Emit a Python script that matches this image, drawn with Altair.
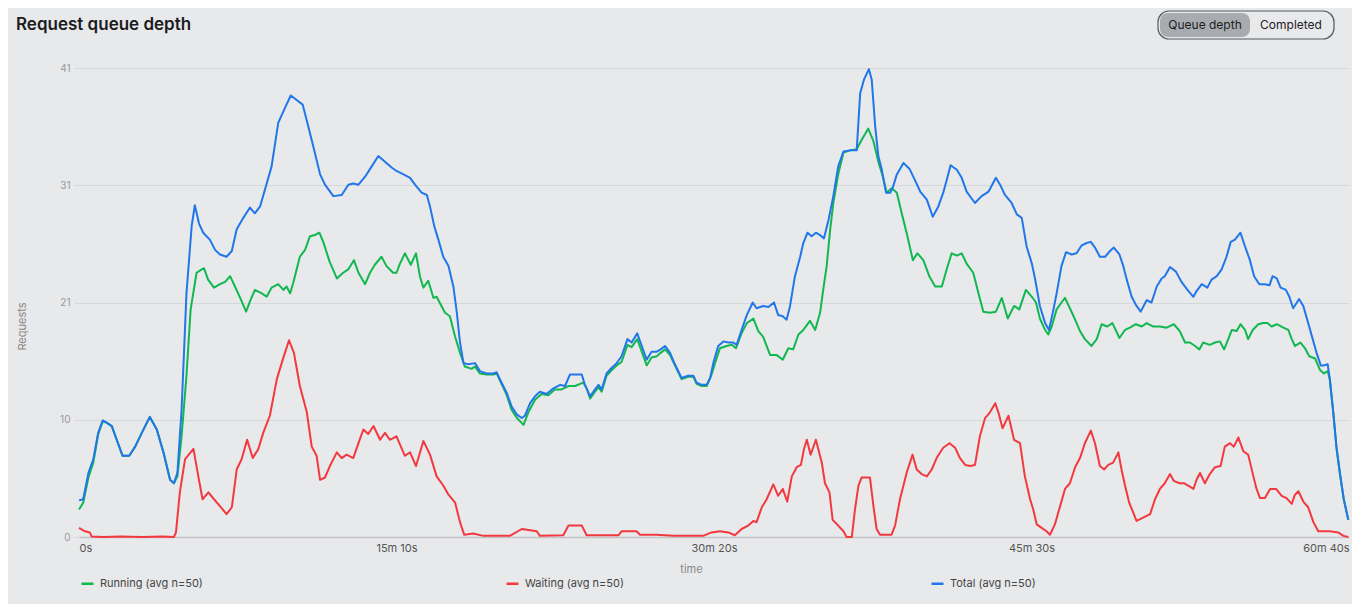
import altair as alt
import pandas as pd

# ---------------- data ----------------
series_names = ["Running (avg n=50)", "Waiting (avg n=50)", "Total (avg n=50)"]
series_colors = ["#10b84f", "#f2393f", "#2176ea"]

running_t = [0, 12, 27, 41, 55, 68, 79, 94, 108, 125, 144, 161, 180, 203, 223, 242, 261, 272, 282, 294,
             308, 320, 337, 352, 358, 370, 387, 404, 419, 433, 447, 462, 479, 490, 504, 524, 538, 552, 571, 586,
             595, 605, 614, 633, 648, 662, 676, 689, 700, 718, 739, 757, 772, 788, 801, 820, 834, 848, 867, 881,
             900, 910, 920, 934, 951, 966, 977, 987, 1001, 1016, 1025, 1049, 1063, 1078, 1092, 1106, 1125, 1135, 1149, 1168,
             1188, 1197, 1211, 1226, 1240, 1255, 1274, 1288, 1307, 1326, 1345, 1364, 1383, 1403, 1422, 1445, 1455, 1465, 1479, 1489,
             1498, 1512, 1527, 1541, 1555, 1572, 1584, 1600, 1613, 1627, 1641, 1656, 1667, 1680, 1694, 1708, 1727, 1746, 1761, 1770,
             1785, 1799, 1813, 1823, 1837, 1856, 1871, 1883, 1899, 1914, 1933, 1947, 1961, 1981, 2000, 2017, 2033, 2047, 2062, 2076,
             2095, 2110, 2124, 2133, 2143, 2153, 2162, 2176, 2191, 2210, 2229, 2243, 2262, 2277, 2291, 2304, 2315, 2329, 2344, 2358,
             2372, 2390, 2403, 2420, 2437, 2454, 2473, 2487, 2501, 2516, 2530, 2544, 2563, 2578, 2592, 2611, 2628, 2645, 2662, 2680,
             2695, 2714, 2731, 2743, 2754, 2769, 2778, 2788, 2802, 2816, 2826, 2840, 2855, 2869, 2883, 2902, 2917, 2931, 2947, 2962,
             2982, 2998, 3012, 3029, 3046, 3060, 3079, 3098, 3117, 3138, 3155, 3170, 3184, 3199, 3211, 3222, 3241, 3256, 3270, 3282,
             3294, 3304, 3318, 3329, 3342, 3351, 3364, 3380, 3394, 3406, 3418, 3433, 3452, 3466, 3476, 3485, 3501, 3514, 3526, 3543,
             3557, 3568, 3579, 3585, 3595, 3604, 3614, 3625, 3638]
running_v = [2.4, 3.0, 5.2, 6.5, 9.0, 10.1, 10.0, 9.7, 8.5, 7.1, 7.1, 7.9, 9.1, 10.5, 9.4, 7.4, 5.0, 4.7, 5.3, 8.8,
             14.1, 19.9, 23.1, 23.4, 23.5, 22.5, 21.8, 22.1, 22.3, 22.8, 21.9, 20.9, 19.7, 20.6, 21.6, 21.3, 21.0, 21.8, 22.1, 21.6,
             21.9, 21.3, 22.2, 24.5, 25.1, 26.3, 26.4, 26.6, 25.8, 24.1, 22.6, 23.1, 23.4, 24.2, 23.1, 22.1, 23.1, 23.8, 24.5, 23.7,
             23.1, 23.1, 23.9, 24.8, 23.8, 24.8, 22.8, 21.8, 22.4, 20.9, 21.0, 19.6, 19.3, 17.5, 16.1, 14.9, 14.7, 14.9, 14.3, 14.2,
             14.2, 14.3, 13.4, 12.4, 11.1, 10.4, 9.8, 10.9, 12.0, 12.5, 12.4, 12.9, 12.9, 13.2, 13.2, 13.5, 13.0, 12.1, 12.7, 13.1,
             12.7, 14.1, 14.6, 15.0, 15.3, 16.8, 16.6, 17.3, 16.2, 15.0, 15.7, 15.8, 16.1, 16.4, 15.9, 15.0, 13.8, 14.0, 14.0, 13.4,
             13.2, 13.2, 14.2, 15.2, 16.5, 16.7, 16.8, 16.5, 17.8, 18.7, 19.1, 18.0, 17.5, 15.9, 15.9, 15.5, 16.5, 16.4, 17.7, 18.1,
             18.9, 18.1, 19.6, 21.6, 23.7, 26.9, 29.2, 31.7, 33.6, 33.8, 33.9, 34.7, 35.7, 34.6, 32.8, 31.5, 30.1, 30.5, 30.1, 28.3,
             26.6, 24.2, 24.8, 24.2, 22.8, 21.9, 21.9, 23.4, 24.8, 24.6, 24.8, 23.9, 23.1, 21.3, 19.7, 19.6, 19.7, 20.9, 19.1, 20.2,
             19.9, 21.6, 21.0, 20.5, 19.1, 18.1, 17.7, 18.4, 19.9, 20.5, 20.9, 20.0, 19.0, 18.0, 17.3, 16.7, 17.3, 18.6, 18.4, 18.7,
             17.4, 18.1, 18.3, 18.6, 18.4, 18.7, 18.4, 18.4, 18.3, 18.6, 18.0, 17.0, 17.0, 16.7, 16.4, 17.0, 16.8, 17.0, 17.1, 16.4,
             17.3, 18.1, 18.0, 18.6, 18.1, 17.3, 18.1, 18.6, 18.7, 18.7, 18.4, 18.6, 18.3, 18.1, 17.3, 16.7, 17.0, 16.5, 15.8, 15.6,
             14.6, 14.3, 14.5, 13.8, 10.8, 7.8, 5.5, 3.3, 1.5]

waiting_t = [0, 17, 31, 36, 70, 120, 180, 240, 272, 278, 289, 304, 328, 342, 354, 371, 387, 404, 423, 438,
             452, 466, 482, 498, 514, 528, 547, 567, 586, 602, 616, 633, 653, 667, 681, 691, 705, 719, 739, 753,
             767, 786, 801, 815, 829, 844, 863, 877, 891, 910, 934, 949, 966, 987, 1006, 1025, 1044, 1059, 1078, 1092,
             1104, 1130, 1159, 1235, 1269, 1312, 1321, 1388, 1403, 1441, 1455, 1546, 1555, 1598, 1608, 1656, 1703, 1789, 1813, 1837,
             1861, 1880, 1899, 1918, 1933, 1942, 1957, 1971, 1990, 2004, 2017, 2030, 2043, 2057, 2069, 2078, 2086, 2097, 2112, 2129,
             2138, 2151, 2160, 2176, 2191, 2200, 2215, 2224, 2234, 2243, 2267, 2277, 2286, 2296, 2329, 2339, 2353, 2372, 2389, 2401,
             2415, 2430, 2444, 2458, 2477, 2495, 2511, 2525, 2540, 2554, 2568, 2582, 2597, 2611, 2626, 2635, 2647, 2664, 2680, 2697,
             2711, 2726, 2735, 2745, 2759, 2773, 2783, 2797, 2812, 2826, 2840, 2855, 2869, 2883, 2900, 2912, 2926, 2938, 2950, 2964,
             2979, 2988, 2998, 3010, 3022, 3031, 3050, 3070, 3084, 3098, 3112, 3127, 3138, 3154, 3167, 3179, 3194, 3203, 3213, 3227,
             3241, 3256, 3272, 3284, 3299, 3310, 3323, 3337, 3351, 3366, 3375, 3385, 3399, 3414, 3431, 3447, 3461, 3476, 3485, 3495,
             3509, 3523, 3538, 3552, 3566, 3585, 3609, 3624, 3638]
waiting_v = [0.8, 0.5, 0.4, 0.05, 0.0, 0.05, 0.0, 0.05, 0.0, 0.4, 3.9, 6.8, 7.7, 5.3, 3.3, 3.9, 3.3, 2.7, 2.0, 2.6,
             5.9, 6.8, 8.5, 6.9, 7.7, 9.1, 10.6, 13.8, 15.7, 17.2, 16.1, 13.2, 10.9, 7.9, 7.1, 5.0, 5.2, 6.2, 7.4, 6.9,
             7.2, 6.9, 8.2, 9.4, 9.0, 9.7, 8.5, 9.1, 8.5, 8.8, 7.1, 7.4, 6.2, 8.4, 7.2, 5.3, 4.5, 3.7, 3.0, 1.3,
             0.2, 0.3, 0.1, 0.1, 0.7, 0.5, 0.1, 0.15, 1.0, 1.0, 0.15, 0.15, 0.5, 0.5, 0.2, 0.2, 0.1, 0.1, 0.4, 0.5,
             0.4, 0.15, 0.7, 1.0, 1.4, 1.3, 2.6, 3.3, 4.6, 3.6, 4.2, 3.1, 5.3, 6.1, 6.3, 7.7, 8.5, 7.2, 8.5, 6.5,
             4.7, 3.9, 1.5, 1.0, 0.5, 0.0, 0.0, 2.4, 4.5, 5.2, 5.2, 2.7, 0.7, 0.2, 0.2, 1.0, 3.3, 5.6, 7.2, 5.9,
             5.5, 5.3, 5.9, 6.9, 7.8, 8.2, 7.8, 6.9, 6.3, 6.2, 6.3, 8.8, 10.4, 10.9, 11.7, 10.9, 9.5, 10.6, 8.5, 8.2,
             5.3, 3.3, 2.4, 1.1, 0.8, 0.5, 0.2, 1.1, 2.7, 4.2, 4.7, 6.1, 6.9, 8.2, 9.3, 8.2, 6.2, 5.9, 6.3, 6.5,
             7.4, 5.9, 4.5, 3.0, 2.1, 1.4, 1.7, 2.0, 3.3, 4.2, 4.7, 5.5, 4.9, 4.7, 4.7, 4.5, 4.2, 5.0, 5.6, 4.7,
             5.5, 6.1, 6.2, 7.9, 8.2, 7.9, 8.7, 7.5, 7.2, 5.3, 4.2, 3.4, 3.4, 4.2, 4.2, 3.6, 3.4, 2.9, 3.7, 4.0,
             3.1, 2.6, 1.3, 0.5, 0.5, 0.5, 0.4, 0.1, 0.0]

total_t = [0, 12, 27, 41, 55, 68, 79, 94, 108, 125, 144, 161, 180, 203, 223, 242, 261, 272, 282, 294,
           308, 323, 332, 344, 356, 375, 390, 404, 423, 438, 452, 471, 490, 504, 519, 538, 552, 571, 590, 607,
           624, 641, 657, 676, 691, 705, 729, 753, 772, 786, 801, 820, 839, 858, 877, 896, 910, 930, 949, 963,
           982, 997, 1006, 1018, 1030, 1044, 1059, 1073, 1083, 1092, 1102, 1116, 1135, 1149, 1168, 1188, 1197, 1211, 1226, 1240,
           1255, 1269, 1278, 1293, 1307, 1321, 1340, 1360, 1379, 1393, 1407, 1426, 1441, 1450, 1465, 1479, 1489, 1498, 1512, 1527,
           1541, 1555, 1572, 1584, 1600, 1613, 1627, 1641, 1656, 1667, 1680, 1694, 1708, 1727, 1746, 1761, 1770, 1785, 1799, 1809,
           1818, 1832, 1847, 1861, 1875, 1885, 1899, 1914, 1931, 1942, 1961, 1976, 1992, 2004, 2017, 2028, 2038, 2052, 2067, 2076,
           2088, 2100, 2112, 2124, 2135, 2148, 2162, 2176, 2191, 2210, 2229, 2239, 2250, 2264, 2272, 2282, 2291, 2301, 2313, 2325,
           2332, 2344, 2363, 2380, 2396, 2411, 2430, 2447, 2463, 2477, 2487, 2498, 2516, 2530, 2544, 2568, 2587, 2607, 2628, 2640,
           2654, 2673, 2688, 2702, 2716, 2731, 2740, 2754, 2769, 2780, 2791, 2802, 2816, 2829, 2845, 2859, 2874, 2888, 2900, 2912,
           2926, 2941, 2955, 2966, 2982, 2993, 3003, 3017, 3031, 3043, 3060, 3074, 3089, 3103, 3112, 3127, 3144, 3160, 3177, 3194,
           3203, 3218, 3234, 3246, 3261, 3275, 3289, 3301, 3313, 3329, 3342, 3356, 3368, 3383, 3399, 3412, 3421, 3433, 3444, 3459,
           3469, 3480, 3497, 3509, 3523, 3536, 3547, 3559, 3568, 3579, 3585, 3595, 3604, 3614, 3625, 3638]
total_v = [3.2, 3.3, 5.6, 6.8, 9.1, 10.2, 10.0, 9.7, 8.5, 7.1, 7.1, 7.9, 9.1, 10.5, 9.4, 7.4, 5.0, 4.7, 5.6, 11.1,
           21.3, 27.2, 29.0, 27.4, 26.6, 26.0, 25.1, 24.7, 24.5, 25.0, 26.9, 27.9, 28.8, 28.3, 28.9, 30.9, 32.4, 36.2, 37.5, 38.6,
           38.2, 37.8, 35.9, 33.6, 31.7, 30.8, 29.8, 29.9, 30.8, 30.9, 30.8, 31.5, 32.4, 33.3, 32.8, 32.3, 32.0, 31.7, 31.4, 30.8,
           30.1, 29.9, 28.9, 27.2, 26.0, 24.5, 23.7, 21.9, 19.6, 17.0, 15.2, 15.1, 15.2, 14.5, 14.3, 14.3, 14.4, 13.5, 12.6, 11.4,
           10.7, 10.4, 10.6, 11.7, 12.3, 12.7, 12.5, 13.0, 13.3, 13.2, 14.2, 14.2, 14.2, 13.3, 12.3, 12.9, 13.3, 12.9, 14.3, 14.8,
           15.2, 15.8, 17.3, 17.0, 17.8, 16.7, 15.5, 16.2, 16.2, 16.4, 16.7, 16.1, 15.1, 13.9, 14.1, 14.1, 13.5, 13.3, 13.3, 13.9,
           15.2, 16.7, 17.1, 17.0, 17.0, 16.8, 18.1, 19.4, 20.5, 20.0, 20.2, 20.1, 20.5, 19.4, 19.3, 19.0, 20.2, 22.8, 24.5, 25.7,
           26.6, 26.3, 26.6, 26.4, 26.1, 27.7, 29.8, 32.4, 33.7, 33.8, 33.8, 38.8, 40.0, 40.9, 40.0, 35.9, 33.3, 32.1, 30.1, 30.1,
           30.5, 31.7, 32.7, 32.2, 31.2, 30.2, 29.5, 28.0, 28.9, 30.1, 31.2, 32.5, 32.1, 31.4, 30.2, 29.2, 29.8, 30.2, 31.4, 30.8,
           29.9, 29.2, 28.2, 27.9, 25.4, 23.9, 22.6, 20.2, 18.7, 18.1, 19.6, 21.3, 23.7, 24.9, 24.7, 24.8, 25.5, 25.7, 25.8, 25.3,
           24.5, 24.5, 25.0, 25.3, 24.7, 23.7, 22.5, 21.0, 20.2, 19.7, 20.7, 20.5, 21.9, 22.6, 22.8, 23.6, 23.2, 22.3, 21.6, 21.0,
           21.5, 22.1, 21.8, 22.5, 22.8, 23.4, 24.5, 25.8, 26.0, 26.6, 25.4, 24.2, 22.8, 22.1, 22.1, 22.0, 22.8, 22.6, 21.8, 21.6,
           21.0, 20.0, 20.8, 20.2, 18.7, 17.3, 16.1, 15.0, 15.0, 15.1, 13.8, 10.9, 7.9, 5.6, 3.3, 1.5]

x_ticks = [0, 910, 1820, 2730, 3640]
y_ticks = [0, 10.25, 20.5, 30.75, 41]
chart_title = "Request queue depth"
toggle_labels = ["Queue depth", "Completed"]

# ---------------- table ----------------
rows = []
for name, ts, vs in [(series_names[0], running_t, running_v),
                     (series_names[1], waiting_t, waiting_v),
                     (series_names[2], total_t, total_v)]:
    for t, v in zip(ts, vs):
        rows.append({"time": t, "requests": v, "series": name})
df = pd.DataFrame(rows)

FONT = "Inter"
BG = "#e8e9eb"
GRID = "#d6d7da"

x_enc = alt.X(
    "time:Q",
    scale=alt.Scale(domain=[0, 3640], nice=False, zero=False),
    axis=alt.Axis(
        values=x_ticks,
        labelExpr="datum.value == 0 ? '0s' : floor(datum.value / 60) + 'm ' + (datum.value % 60) + 's'",
        title="time", grid=False, ticks=False, domain=True, domainColor="#c3c4c7", domainWidth=1.5,
        labelFlush=True, labelColor="#555", labelFontSize=11, labelPadding=5, labelFont=FONT,
        titleColor="#888", titleFontSize=11, titleFontWeight="normal", titleFont=FONT,
        titleX=612, titleY=32, titleBaseline="middle",
    ),
)
y_enc = alt.Y(
    "requests:Q",
    scale=alt.Scale(domain=[0, 41], nice=False),
    axis=alt.Axis(
        values=y_ticks, labelExpr="round(datum.value)",
        grid=True, gridColor=GRID, domain=False, ticks=True, tickColor=GRID, tickSize=5,
        labelColor="#999", labelFontSize=10, labelPadding=4, labelFont=FONT,
        title="Requests", titleColor="#888", titleFontSize=11, titleFontWeight="normal", titleFont=FONT,
        titleX=-57, titleY=258, titleBaseline="middle",
    ),
)
color_enc = alt.Color(
    "series:N",
    scale=alt.Scale(domain=series_names, range=series_colors),
    legend=alt.Legend(
        title=None, orient="none", legendX=1, legendY=508, direction="horizontal",
        columns=3, gridAlign="all", columnPadding=298,
        symbolType="stroke", symbolSize=144, symbolStrokeWidth=2.5,
        labelFontSize=11, labelColor="#444", labelFont=FONT, labelOffset=5,
    ),
)

base = alt.Chart(df).encode(x=x_enc, y=y_enc, color=color_enc)
lines = [
    base.transform_filter(alt.datum.series == s).mark_line(strokeWidth=2, strokeJoin="round")
    for s in series_names
]

one = pd.DataFrame({"k": [0]})
title_mark = alt.Chart(one).mark_text(
    text=chart_title, fontSize=17, fontWeight=600, font=FONT, color="#1b1c1f",
    align="left", baseline="middle"
).encode(x=alt.value(-63), y=alt.value(-43))
toggle_outer = alt.Chart(one).mark_rect(
    cornerRadius=11, fill=BG, stroke="#55585d", strokeWidth=1.2
).encode(x=alt.value(1079), x2=alt.value(1255), y=alt.value(-57), y2=alt.value(-29))
toggle_active = alt.Chart(one).mark_rect(cornerRadius=8, fill="#a8acb1").encode(
    x=alt.value(1081), x2=alt.value(1171), y=alt.value(-55), y2=alt.value(-31)
)
toggle_t1 = alt.Chart(one).mark_text(
    text=toggle_labels[0], fontSize=12, font=FONT, color="#1f2023", align="center", baseline="middle"
).encode(x=alt.value(1126), y=alt.value(-43))
toggle_t2 = alt.Chart(one).mark_text(
    text=toggle_labels[1], fontSize=12, font=FONT, color="#1f2023", align="center", baseline="middle"
).encode(x=alt.value(1212), y=alt.value(-43))

chart = alt.layer(*lines, title_mark, toggle_outer, toggle_active, toggle_t1, toggle_t2).properties(
    width=1270, height=469,
    autosize=alt.AutoSizeParams(type="none"),
    padding={"left": 71, "top": 60, "right": 3, "bottom": 67},
).configure(background=BG, font=FONT).configure_view(stroke=None)

chart.save("out.html", embed_options={"renderer": "svg", "actions": False})
